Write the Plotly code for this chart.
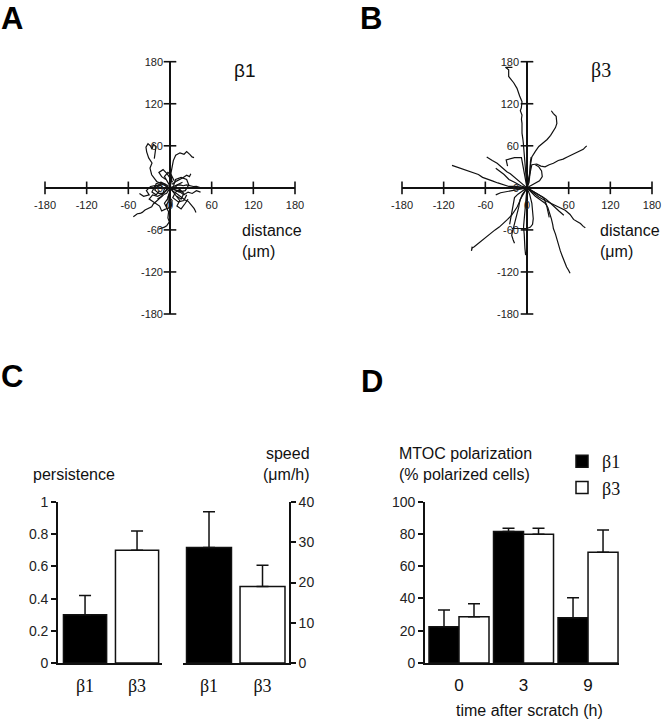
import plotly.graph_objects as go

# ---------------- data ----------------
# Panel A (beta1) cell tracks, micrometres
A_TRACKS_X = [
    [0, -4, -9.6, -19.2, -26.4, -28.8, -25.9, -30.7, -33.6, -34.6, -31.7, -27.8, -25.9, -24, -20.2, -21.1, -22.6],
    [0, 1, 2.4, 1.4, 2.9, 4.8, 8.2, 14.4, 20.2, 24, 28.8, 31.7, 34.6],
    [0, 4.8, 9, 14.4, 19, 24, 29, 33.6, 38, 43.2],
    [0, 4.8, 8, 12, 17, 21.6, 26, 28.8, 32, 34.6, 36, 37.4],
    [0, -4.8, -8, -12, -17, -21.6, -24, -26.4, -31, -36, -40, -43.2, -47, -50.4, -52.8],
    [0, -1, -3, -2.4, -5, -4.8, -2, -2.4, -3, -1, -3, -4.8, -8, -10.6, -14, -16.8],
    [-22, -20, -13, -6, -5, -9, -16, -22, -18, -14],
    [5, 8, 16, 24, 27, 22, 13, 6, 10, 18],
    [-3, -10, -18, -25, -30, -22, -15, -12, -6],
    [0, -3, -8, -4, 2, 3, -2],
    [3, 10, 18, 24, 28, 30],
    [2, 12, 20, 26, 32, 38, 44],
    [-2, -10, -18, -28, -34, -30, -38, -44],
    [0, 8, 14, 10, 16, 22, 26],
    [1, -4, -8, -3, 2, 6],
    [-15, -20, -26, -22, -14, -8, -12, -18],
    [10, 16, 20, 14, 8, 4, 12, 20, 24],
    [-6, -12, -16, -10, -4, 0, 4],
]
A_TRACKS_Y = [
    [0, 2, 4.3, 9.1, 18.7, 28.3, 35.5, 42.7, 51.4, 58, 62.9, 59.5, 55.2, 62, 59, 50, 41.8],
    [0, 5, 11.5, 21, 30.7, 38.9, 46.6, 50, 48, 51.8, 47.5, 44.2, 43.2],
    [0, 1.9, 3.5, 4.3, 3, 4.3, 3, 1.9, 2, 0.5],
    [0, -5.3, -7, -10, -13, -17.3, -19, -22, -25, -29.3, -32, -35],
    [0, -7.7, -9, -12.5, -16, -19.7, -23, -26.9, -29, -31.7, -35, -36.5, -37, -38.9, -41.3],
    [0, -7.7, -13, -19.7, -24, -29.3, -34, -38.9, -43, -48.5, -52, -54.2, -56, -57.1, -58, -59],
    [0, 6, 8, 5, -2, -8, -8, -3, 2, 3],
    [3, 12, 15, 12, 4, -4, -6, -2, 4, 8],
    [-2, -8, -12, -10, -16, -22, -26, -33, -30],
    [-5, -15, -22, -30, -26, -18, -12],
    [5, 10, 14, 18, 16, 20],
    [-2, -4, -10, -6, -8, -4, -6],
    [3, 6, 4, 2, -4, -10, -12, -8],
    [0, -10, -18, -26, -30, -22, -16],
    [1, 10, 16, 22, 18, 10],
    [-4, -10, -6, 2, 4, -2, -12, -16],
    [-12, -16, -8, -2, -6, -14, -20, -18, -10],
    [12, 16, 22, 26, 20, 14, 8],
]

# Panel B (beta3) cell tracks, micrometres
B_TRACKS_X = [
    [0, -1.4, -3.4, -5.3, -6, -7.2, -7.2, -8, -7.2, -9.6, -8.2, -7.2, -10.6, -14.4, -19.2, -23, -26.4, -26.4, -31, -21],
    [0, 2, 4, 5, 7, 12, 17, 23, 29, 34, 38, 41, 43, 42, 42, 38, 35],
    [0, 3, 5, 7, 14, 20, 26, 32, 38, 45, 52, 58, 64, 70, 76, 81, 84, 86],
    [0, -8, -16, -26, -34, -42, -50, -58, -64, -70, -76, -82, -88, -95, -100, -108],
    [0, -6, -12, -18, -24, -29, -36, -43, -50, -58],
    [0, -4, -7, -10, -14, -18, -22, -28, -34, -40, -46, -52, -60, -66, -72, -76, -79, -80, -79],
    [0, -5, -10, -12, -14, -17, -19, -21, -22, -20, -18],
    [0, -1, -2, -3, -4, -5, -4, -4, -3, -2],
    [0, 4, 7, 8, 9, 8, 5, 0, -8, -16, -22],
    [0, 6, 12, 19, 26, 30, 33, 35, 37, 38, 41, 43, 46, 48, 51, 54, 57, 60, 62],
    [0, 8, 17, 26, 36, 45, 55, 62, 67, 72, 77, 81, 84],
    [0, 10, 20, 27, 34, 40, 46, 53],
    [0, 14, 24, 28, 30, 32],
    [0, 3, 4, 4, 5, 6],
    [0, -2, -4, -6, -8, -18, -30, -28],
    [0, 8, 14, 18, 22, 21, 17, 12],
    [0, -10, -20, -30, -38, -45],
    [0, -9, -18, -26, -33, -40, -45],
    [0, -6, -13, -18, -20, -22, -24, -25],
]
B_TRACKS_Y = [
    [0, 21, 45, 64, 70, 78, 92, 98, 104, 110, 114, 123, 131, 142, 150, 155, 159, 168.5, 172, 172],
    [0, 10, 22, 33, 44, 52, 59, 64, 69, 75, 81, 86, 92, 98, 102, 106, 110],
    [0, 12, 24, 33, 34, 31, 30, 33, 35, 39, 41, 44, 47, 49, 53, 55, 58, 60],
    [0, 1, 2, 2, 4, 7, 10, 13, 15, 19, 21, 23, 26, 28, 30, 32],
    [0, 5, 11, 15, 20, 23, 29, 35, 39, 44],
    [0, -6, -10, -18, -27, -33, -39, -45, -51, -56, -60, -65, -72, -76, -81, -84, -86, -90, -84],
    [0, -8, -17, -28, -37, -46, -55, -62, -68, -74, -79],
    [0, -10, -22, -34, -46, -56, -66, -76, -86, -96],
    [0, -10, -22, -34, -44, -52, -56, -58, -58, -58, -58],
    [0, -6, -12, -17, -22, -28, -36, -44, -52, -58, -66, -74, -82, -90, -98, -106, -113, -118, -122],
    [0, -6, -13, -18, -23, -27, -32, -38, -45, -48, -51, -55, -57],
    [0, -6, -11, -16, -22, -28, -33, -39],
    [0, -8, -14, -24, -34, -42],
    [0, 8, 18, 28, 38, 44],
    [0, 12, 24, 36, 43, 43, 40, 31],
    [0, 4, 8, 10, 16, 24, 30, 33],
    [0, -2, -3, -5, -7, -10],
    [0, 3, 8, 12, 19, 24, 28],
    [0, -4, -9, -14, -24, -35, -44, -52],
]

TRACK_TICKS = [-180, -120, -60, 0, 60, 120, 180]
TRACK_TICK_TEXT = ["-180", "-120", "-60", "0", "60", "120", "180"]

# Panel C
C_GROUPS = ["β1", "β3"]
C_COLORS = ["black", "white"]
PERSISTENCE = [0.30, 0.70]
PERSISTENCE_ERR = [0.12, 0.12]
SPEED = [28.7, 19.0]
SPEED_ERR = [8.9, 5.3]
PERSIST_TICKS = [0, 0.2, 0.4, 0.6, 0.8, 1]
PERSIST_TICK_TEXT = ["0", "0.2", "0.4", "0.6", "0.8", "1"]
SPEED_TICKS = [0, 10, 20, 30, 40]

# Panel D
D_TIMES = ["0", "3", "9"]
D_B1 = [22.5, 81.5, 28.0]
D_B1_ERR = [10.4, 2.0, 12.5]
D_B3 = [28.7, 79.8, 68.6]
D_B3_ERR = [8.0, 3.7, 13.9]
D_TICKS = [0, 20, 40, 60, 80, 100]

# ---------------- figure ----------------
W, H = 662, 720
INK = "#111111"
SANS = "Liberation Sans, Arial, sans-serif"
SERIF = "Liberation Serif, Times New Roman, serif"


def px(x):
    return x / W


def py(y):
    return 1 - y / H


fig = go.Figure()

zeros = [0] * len(TRACK_TICKS)
for xa, ya, tracks_x, tracks_y in (("x", "y", A_TRACKS_X, A_TRACKS_Y),
                                    ("x2", "y2", B_TRACKS_X, B_TRACKS_Y)):
    # tick marks crossing the central axes
    fig.add_trace(go.Scatter(x=TRACK_TICKS, y=zeros, mode="markers", xaxis=xa, yaxis=ya,
                             marker=dict(symbol="line-ns", size=9, line=dict(color=INK, width=1.6)),
                             showlegend=False, hoverinfo="skip", cliponaxis=False))
    fig.add_trace(go.Scatter(x=zeros, y=TRACK_TICKS, mode="markers", xaxis=xa, yaxis=ya,
                             marker=dict(symbol="line-ew", size=9, line=dict(color=INK, width=1.6)),
                             showlegend=False, hoverinfo="skip", cliponaxis=False))
    for xs, ys in zip(tracks_x, tracks_y):
        fig.add_trace(go.Scatter(x=xs, y=ys, mode="lines", xaxis=xa, yaxis=ya,
                                 line=dict(color=INK, width=1.2), showlegend=False,
                                 hoverinfo="skip", cliponaxis=False))

err_common = dict(type="data", symmetric=False, color=INK, thickness=1.5, width=6)

fig.add_trace(go.Bar(x=C_GROUPS, y=PERSISTENCE, xaxis="x3", yaxis="y3", width=0.83,
                     marker=dict(color=C_COLORS, line=dict(color=INK, width=1.5)),
                     error_y=dict(array=PERSISTENCE_ERR, arrayminus=[0, 0], **err_common),
                     showlegend=False))
fig.add_trace(go.Bar(x=C_GROUPS, y=SPEED, xaxis="x4", yaxis="y4", width=0.84,
                     marker=dict(color=C_COLORS, line=dict(color=INK, width=1.5)),
                     error_y=dict(array=SPEED_ERR, arrayminus=[0, 0], **err_common),
                     showlegend=False))

fig.add_trace(go.Bar(x=D_TIMES, y=D_B1, xaxis="x7", yaxis="y7", name="β1",
                     width=0.465, offset=-0.465,
                     marker=dict(color="black", line=dict(color=INK, width=1.5)),
                     error_y=dict(array=D_B1_ERR, arrayminus=[0, 0, 0], **err_common)))
fig.add_trace(go.Bar(x=D_TIMES, y=D_B3, xaxis="x7", yaxis="y7", name="β3",
                     width=0.465, offset=0,
                     marker=dict(color="white", line=dict(color=INK, width=1.5)),
                     error_y=dict(array=D_B3_ERR, arrayminus=[0, 0, 0], **err_common)))

track_font = dict(family=SANS, size=11, color="#222222")
ax_y_dom = [py(314), py(61.7)]
xpos = py(188)


def track_axes(xdom, ypos):
    base_x = dict(domain=xdom, range=[-180, 180], anchor="free", position=xpos,
                  showline=False, ticks="", tickvals=TRACK_TICKS, ticktext=TRACK_TICK_TEXT,
                  tickfont=track_font, ticklabelstandoff=9, showgrid=False,
                  zeroline=True, zerolinecolor=INK, zerolinewidth=1.6,
                  fixedrange=True, automargin=False)
    base_y = dict(domain=ax_y_dom, range=[-180, 180], anchor="free", position=ypos,
                  showline=False, ticks="", tickvals=TRACK_TICKS, ticktext=TRACK_TICK_TEXT,
                  tickfont=track_font, ticklabelstandoff=7, showgrid=False,
                  zeroline=True, zerolinecolor=INK, zerolinewidth=1.6,
                  fixedrange=True, automargin=False)
    return base_x, base_y


ax_x, ax_y = track_axes([px(45), px(295)], px(170))
bx_x, bx_y = track_axes([px(402), px(652)], px(526))

bar_x_common = dict(showline=True, linecolor=INK, linewidth=1.6, ticks="", ticklabelstandoff=6,
                    showgrid=False, zeroline=False, fixedrange=True, automargin=False)
bar_y_common = dict(showline=True, linecolor=INK, linewidth=1.6, ticks="outside", ticklen=5,
                    tickwidth=1.5, tickcolor=INK, tickfont=dict(family=SANS, size=14, color="#222222"),
                    showgrid=False, zeroline=False, fixedrange=True, automargin=False)

fig.update_layout(
    xaxis=ax_x, yaxis=ax_y,
    xaxis2=bx_x, yaxis2=bx_y,
    xaxis3=dict(domain=[px(58), px(162)], anchor="y3", range=[-0.52, 1.48],
                tickfont=dict(family=SERIF, size=18, color=INK), **bar_x_common),
    yaxis3=dict(domain=[py(663), py(502)], anchor="x3", range=[0, 1],
                tickvals=PERSIST_TICKS, ticktext=PERSIST_TICK_TEXT, **bar_y_common),
    xaxis4=dict(domain=[px(183), px(289)], anchor="y4", range=[-0.486, 1.495],
                tickfont=dict(family=SERIF, size=18, color=INK), **bar_x_common),
    yaxis4=dict(domain=[py(663), py(502)], anchor="x4", side="right", range=[0, 40],
                tickvals=SPEED_TICKS, **bar_y_common),
    xaxis7=dict(domain=[px(425), px(619)], anchor="y7", range=[-0.527, 2.48],
                tickfont=dict(family=SANS, size=17, color=INK), **bar_x_common),
    yaxis7=dict(domain=[py(663), py(501.7)], anchor="x7", range=[0, 100],
                tickvals=D_TICKS, **bar_y_common),
    barmode="overlay",
    width=W, height=H,
    margin=dict(l=0, r=0, t=0, b=0, autoexpand=False),
    paper_bgcolor="white", plot_bgcolor="rgba(0,0,0,0)",
    showlegend=True,
    legend=dict(x=px(562), y=py(443), xanchor="left", yanchor="top",
                font=dict(family=SERIF, size=18, color=INK), bgcolor="rgba(0,0,0,0)",
                tracegroupgap=0, itemclick=False, itemdoubleclick=False),
)

label_font = dict(family=SANS, size=16, color=INK)
letter_font = dict(family=SANS, size=31, color="black")
annots = [
    dict(text="<b>A</b>", x=px(0), y=1, xanchor="left", yanchor="top", font=letter_font, borderpad=0),
    dict(text="<b>B</b>", x=px(359), y=1, xanchor="left", yanchor="top", font=letter_font, borderpad=0),
    dict(text="<b>C</b>", x=px(0), y=py(358), xanchor="left", yanchor="top", font=letter_font, borderpad=0),
    dict(text="<b>D</b>", x=px(360), y=py(363), xanchor="left", yanchor="top", font=letter_font, borderpad=0),
    dict(text="β1", x=px(245), y=py(71), xanchor="center", yanchor="middle",
         font=dict(family=SANS, size=19, color=INK)),
    dict(text="β3", x=px(601), y=py(71), xanchor="center", yanchor="middle",
         font=dict(family=SERIF, size=20, color=INK)),
    dict(text="distance<br>(μm)", x=px(240), y=py(241), xanchor="left", yanchor="middle",
         align="left", font=label_font),
    dict(text="distance<br>(μm)", x=px(598), y=py(241), xanchor="left", yanchor="middle",
         align="left", font=label_font),
    dict(text="persistence", x=px(31), y=py(474), xanchor="left", yanchor="middle", font=label_font),
    dict(text="speed<br>(μm/h)", x=px(312), y=py(463.5), xanchor="right", yanchor="middle",
         align="right", font=label_font),
    dict(text="MTOC polarization<br>(% polarized cells)", x=px(397), y=py(463.5), xanchor="left",
         yanchor="middle", align="left", font=label_font),
    dict(text="time after scratch (h)", x=px(529), y=py(710), xanchor="center", yanchor="middle",
         font=label_font),
]
for a in annots:
    a.update(xref="paper", yref="paper", showarrow=False)
fig.update_layout(annotations=annots)

fig.write_html("out.html", config={"displayModeBar": False},
               post_script="document.body.style.margin='0';")
